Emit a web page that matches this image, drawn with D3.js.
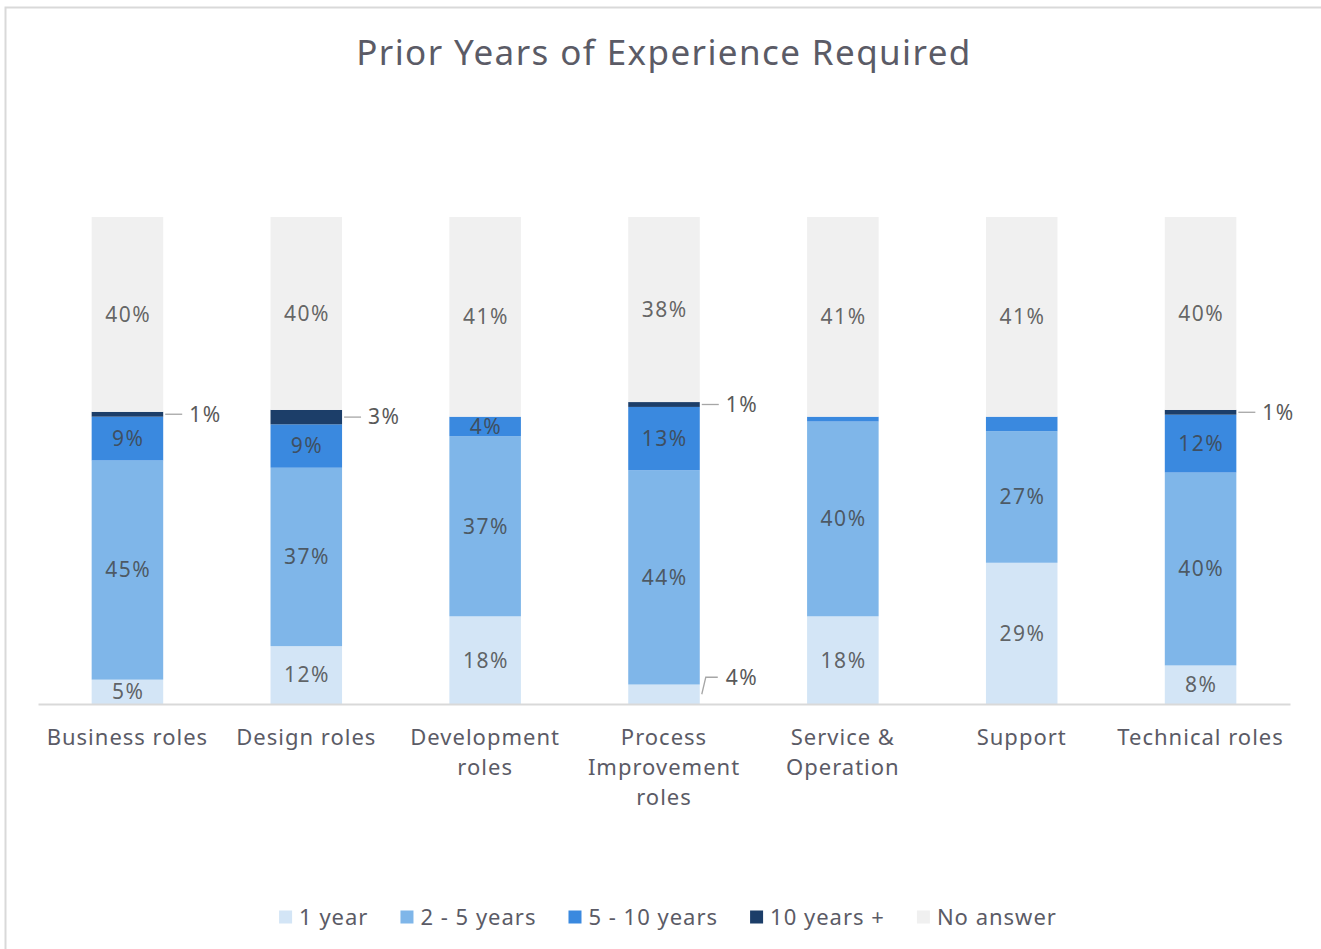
<!DOCTYPE html>
<html>
<head>
<meta charset="utf-8">
<script src="https://cdn.jsdelivr.net/npm/d3@7"></script>
<style>
  html, body { margin: 0; padding: 0; background: #fff; }
  svg { display: block; }
  text { font-family: "Noto Sans", "Open Sans", sans-serif; }
</style>
</head>
<body>
<svg id="chart" width="1321" height="949"></svg>
<script>
// Job role groups along the x axis (lines split for wrapped labels)
const categories = [
  ["Business roles"],
  ["Design roles"],
  ["Development", "roles"],
  ["Process", "Improvement", "roles"],
  ["Service &", "Operation"],
  ["Support"],
  ["Technical roles"]
];
const seriesNames = ["1 year", "2 - 5 years", "5 - 10 years", "10 years +", "No answer"];
const seriesColors = ["#d3e5f6", "#7fb6e9", "#3a89df", "#1c3e69", "#f0f0f0"];

// Share of postings (%) per role group, one array per series
const oneYear     = [5, 12, 18, 4, 18, 29, 8];
const twoToFive   = [45, 37, 37, 44, 40, 27, 40];
const fiveToTen   = [9, 9, 4, 13, 1, 3, 12];
const tenPlus     = [1, 3, 0, 1, 0, 0, 1];
const noAnswer    = [40, 40, 41, 38, 41, 41, 40];

// Labels drawn beside the bar with a leader line: [category index, series index]
const outsideLabels = [[0, 3], [1, 3], [3, 3], [3, 0], [6, 3]];
// Segments left without a label
const hiddenLabels = [[4, 2], [5, 2]];

const seriesValues = [oneYear, twoToFive, fiveToTen, tenPlus, noAnswer];
const rows = categories.map((c, i) => {
  const r = { idx: i };
  seriesNames.forEach((s, k) => { r[s] = seriesValues[k][i]; });
  return r;
});

const svg = d3.select("#chart");

// Chart frame
svg.append("rect")
  .attr("x", 5.5).attr("y", 7.5)
  .attr("width", 1330).attr("height", 960)
  .attr("fill", "none").attr("stroke", "#d9d9d9").attr("stroke-width", 2);

// Title
svg.append("text")
  .attr("x", 664).attr("y", 65)
  .attr("text-anchor", "middle")
  .attr("font-size", 35)
  .attr("letter-spacing", 1.4)
  .attr("fill", "#5b5b66")
  .text("Prior Years of Experience Required");

const plot = { left: 38, right: 1290, bottom: 704, top: 217 };

const x = d3.scaleBand()
  .domain(rows.map(r => r.idx))
  .range([plot.left, plot.right])
  .paddingInner(0.6)
  .paddingOuter(0.3);

// 100% stacked columns
const y = d3.scaleLinear().domain([0, 1]).range([plot.bottom, plot.top]);

const stack = d3.stack().keys(seriesNames).offset(d3.stackOffsetExpand);
const layers = stack(rows);

const g = svg.append("g");

layers.forEach((layer, k) => {
  g.append("g")
    .attr("fill", seriesColors[k])
    .selectAll("rect")
    .data(layer)
    .join("rect")
    .attr("x", d => x(d.data.idx))
    .attr("width", x.bandwidth())
    .attr("y", d => y(d[1]))
    .attr("height", d => y(d[0]) - y(d[1]));
});

// Category axis
const axis = d3.axisBottom(x).tickSize(0).tickFormat("");
const axG = svg.append("g")
  .attr("transform", `translate(0,${plot.bottom})`)
  .call(axis);
axG.select(".domain").attr("stroke", "#d9d9d9").attr("stroke-width", 2);

rows.forEach(r => {
  const t = svg.append("text")
    .attr("x", x(r.idx) + x.bandwidth() / 2)
    .attr("y", 745)
    .attr("text-anchor", "middle")
    .attr("font-size", 22)
    .attr("letter-spacing", 1)
    .attr("fill", "#5b5b66");
  categories[r.idx].forEach((line, li) => {
    t.append("tspan")
      .attr("x", x(r.idx) + x.bandwidth() / 2)
      .attr("dy", li === 0 ? 0 : 30)
      .text(line);
  });
});

// Data labels
const isIn = (list, i, k) => list.some(p => p[0] === i && p[1] === k);
const lbl = svg.append("g").attr("font-size", 21).attr("letter-spacing", 1.5);

layers.forEach((layer, k) => {
  const key = seriesNames[k];
  layer.forEach(d => {
    const i = d.data.idx;
    const v = d.data[key];
    if (v <= 0 || isIn(hiddenLabels, i, k)) return;
    const cx = x(i) + x.bandwidth() / 2;
    const my = y((d[0] + d[1]) / 2);
    if (isIn(outsideLabels, i, k)) {
      const x0 = x(i) + x.bandwidth() + 2;
      // small bottom segment: leader bends up to clear the axis
      const ly = k === 0 ? my - 17 : my;
      const pts = k === 0
        ? [[x0, my], [x0 + 4, ly], [x0 + 16, ly]]
        : [[x0, my], [x0 + 17, ly]];
      lbl.append("path")
        .attr("d", d3.line()(pts))
        .attr("fill", "none")
        .attr("stroke", "#a6a6a6")
        .attr("stroke-width", 1.3);
      lbl.append("text")
        .attr("x", x0 + 24)
        .attr("y", ly)
        .attr("dy", "0.35em")
        .attr("fill", "#595959")
        .text(v + "%");
    } else {
      lbl.append("text")
        .attr("x", cx + 0.75)
        .attr("y", my)
        .attr("dy", "0.35em")
        .attr("text-anchor", "middle")
        .attr("fill", "#404040")
        .attr("fill-opacity", 0.8)
        .text(v + "%");
    }
  });
});

// Legend
const legend = svg.append("g").attr("font-size", 22).attr("letter-spacing", 1).attr("fill", "#5b5b66");
const itemGap = 32, sq = 13, sqGap = 7;
const items = seriesNames.map((name, k) => {
  const t = legend.append("text").attr("y", 917).attr("dy", "0.35em").text(name);
  return { t, w: t.node().getComputedTextLength(), k };
});
const totalW = d3.sum(items, d => sq + sqGap + d.w) + itemGap * (items.length - 1);
let lx = 668 - totalW / 2;
items.forEach(d => {
  legend.append("rect")
    .attr("x", lx).attr("y", 917 - sq / 2)
    .attr("width", sq).attr("height", sq)
    .attr("fill", seriesColors[d.k]);
  d.t.attr("x", lx + sq + sqGap);
  lx += sq + sqGap + d.w + itemGap;
});
</script>
</body>
</html>
